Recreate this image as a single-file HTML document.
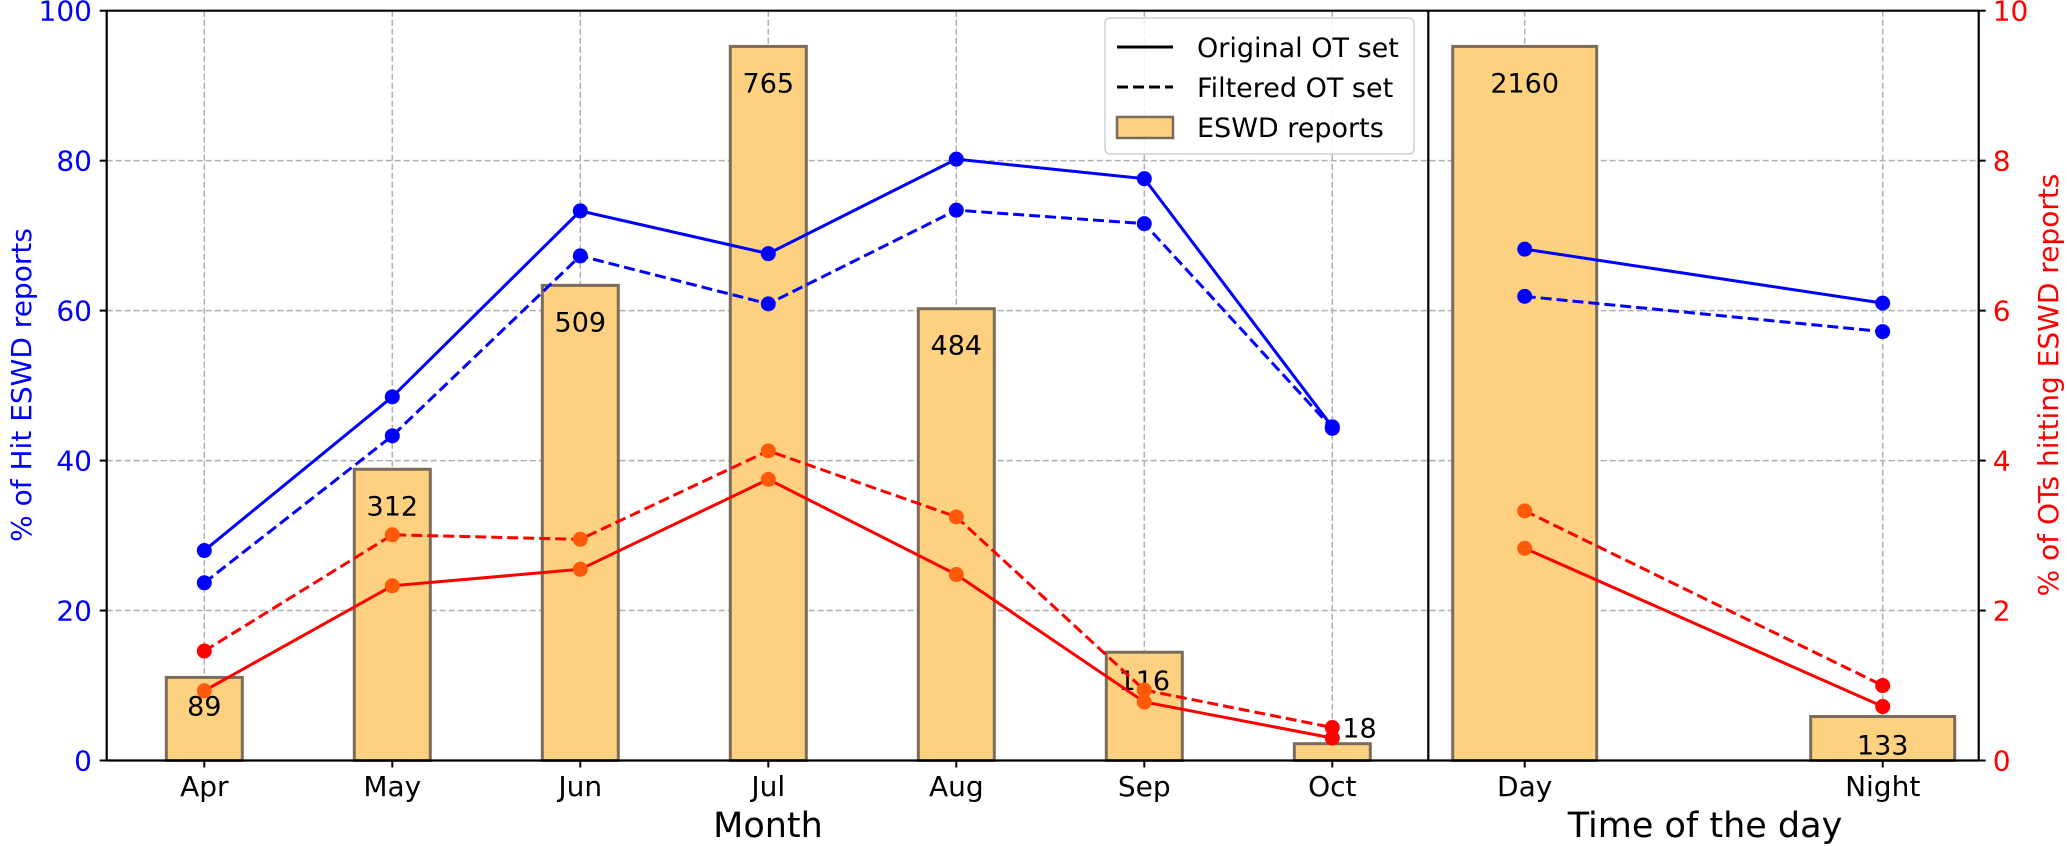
<!DOCTYPE html>
<html><head><meta charset="utf-8"><style>
body{margin:0;background:#fff}
svg{display:block;font-family:"DejaVu Sans","Liberation Sans",sans-serif}
</style></head><body>
<svg id="chart" width="2067" height="846" viewBox="0 0 2067 846"></svg>
<script>
const months=["Apr","May","Jun","Jul","Aug","Sep","Oct"];
const monthCounts=[89,312,509,765,484,116,18];
const monthHitOrig=[28,48.5,73.3,67.6,80.2,77.6,44.5];
const monthHitFilt=[23.7,43.3,67.3,60.9,73.4,71.6,44.3];
const monthOTOrig=[0.93,2.33,2.55,3.75,2.48,0.78,0.30];
const monthOTFilt=[1.46,3.01,2.95,4.13,3.25,0.94,0.44];
const times=["Day","Night"];
const timeCounts=[2160,133];
const timeHitOrig=[68.2,61];
const timeHitFilt=[61.9,57.2];
const timeOTOrig=[2.83,0.72];
const timeOTFilt=[3.33,1.0];
const leftTicks=[0,20,40,60,80,100];
const rightTicks=[0,2,4,6,8,10];

const NS="http://www.w3.org/2000/svg";
const svg=document.getElementById('chart');
function mk(tag,attrs,parent){const e=document.createElementNS(NS,tag);for(const k in attrs)e.setAttribute(k,attrs[k]);(parent||svg).appendChild(e);return e;}
const Y0=760.5,Y1=10.7,L=106.7,MID=1428.3,R=1978.7;
const yL=v=>Y0-(v/100)*(Y0-Y1);
const yR=v=>Y0-(v/10)*(Y0-Y1);
const xM=i=>204.3+i*188;
const xT=i=>1524.7+i*358;

// grid
leftTicks.forEach(t=>{const g=mk('line',{x1:L,x2:R,y1:yL(t),y2:yL(t),stroke:'#b0b0b0','stroke-width':1.5,'stroke-dasharray':'6,3'});
});
months.forEach((m,i)=>{const g=mk('line',{x1:xM(i),x2:xM(i),y1:Y1,y2:Y0,stroke:'#b0b0b0','stroke-width':1.5,'stroke-dasharray':'6,3'});
});
times.forEach((m,i)=>{const g=mk('line',{x1:xT(i),x2:xT(i),y1:Y1,y2:Y0,stroke:'#b0b0b0','stroke-width':1.5,'stroke-dasharray':'6,3'});
});

function drawLine(xs,vals,ys,color,dash,name,barPct){
  const pts=vals.map((v,i)=>xs(i)+','+ys(v)).join(' ');
  const pl=mk('polyline',{points:pts,fill:'none',stroke:color,'stroke-width':3,'stroke-dasharray':dash||'none'});
  
  vals.forEach((v,i)=>{
    let c=color;
    if(color==='#ff0000'&&barPct&&(ys(v)>yL(barPct[i])))c='#ff5a0a';
    const p=mk('circle',{cx:xs(i),cy:ys(v),r:7.5,fill:c});
    
  });
}
const mMax=Math.max(...monthCounts)*1.05, tMax=Math.max(...timeCounts)*1.05;
const mPct=monthCounts.map(c=>c/mMax*100), tPct=timeCounts.map(c=>c/tMax*100);

function bars(xs,pcts,counts,w,name){
  pcts.forEach((p,i)=>{
    const b=mk('rect',{x:xs(i)-w/2,y:yL(p),width:w,height:Y0-yL(p),fill:'#fdd17f',stroke:'#7a6c5a','stroke-width':3});
    
    let tx=xs(i),ty=yL(p)+46,anchor='middle';
    if(p<3){tx=xs(i)+10;ty=yL(p)-6;anchor='start';}
    else if(p<16){ty=yL(p)+38;}
    const t=mk('text',{x:tx,y:ty,'font-size':27,'text-anchor':anchor,fill:'#000'});
    t.textContent=counts[i];
  });
}
bars(xM,mPct,monthCounts,76,'month');
bars(xT,tPct,timeCounts,144,'time');

drawLine(xM,monthHitOrig,yL,'#0000ff',null,'hit-original',mPct);
drawLine(xM,monthHitFilt,yL,'#0000ff','11,5','hit-filtered',mPct);
drawLine(xM,monthOTOrig,yR,'#ff0000',null,'ot-original',mPct);
drawLine(xM,monthOTFilt,yR,'#ff0000','11,5','ot-filtered',mPct);
drawLine(xT,timeHitOrig,yL,'#0000ff',null,'time-hit-original',tPct);
drawLine(xT,timeHitFilt,yL,'#0000ff','11,5','time-hit-filtered',tPct);
drawLine(xT,timeOTOrig,yR,'#ff0000',null,'time-ot-original',tPct);
drawLine(xT,timeOTFilt,yR,'#ff0000','11,5','time-ot-filtered',tPct);

[[L,Y1,R,Y1],[L,Y0,R,Y0],[L,Y1,L,Y0],[R,Y1,R,Y0],[MID,Y1,MID,Y0]].forEach(a=>{
  const l=mk('line',{x1:a[0],y1:a[1],x2:a[2],y2:a[3],stroke:'#000','stroke-width':2.2});
  
});
leftTicks.forEach(t=>{
  mk('line',{x1:L-7,x2:L,y1:yL(t),y2:yL(t),stroke:'#000','stroke-width':2});
  const tx=mk('text',{x:92,y:yL(t)+10,'font-size':28,'text-anchor':'end',fill:'#0000ff'});
  tx.textContent=t;
});
rightTicks.forEach(t=>{
  mk('line',{x1:R,x2:R+7,y1:yR(t),y2:yR(t),stroke:'#000','stroke-width':2});
  const tx=mk('text',{x:R+14,y:yR(t)+10,'font-size':28,'text-anchor':'start',fill:'#ff0000'});
  tx.textContent=t;
});
months.forEach((m,i)=>{
  mk('line',{x1:xM(i),x2:xM(i),y1:Y0,y2:Y0+7,stroke:'#000','stroke-width':2});
  const tx=mk('text',{x:xM(i),y:796,'font-size':28,'text-anchor':'middle',fill:'#000'});
  tx.textContent=m;
});
times.forEach((m,i)=>{
  mk('line',{x1:xT(i),x2:xT(i),y1:Y0,y2:Y0+7,stroke:'#000','stroke-width':2});
  const tx=mk('text',{x:xT(i),y:796,'font-size':28,'text-anchor':'middle',fill:'#000'});
  tx.textContent=m;
});
</script>
<div style="position:absolute;left:0;top:0;width:2067px;height:846px;pointer-events:none">
<svg width="2067" height="846" style="font-family:'DejaVu Sans','Liberation Sans',sans-serif">
<text x="768" y="837" font-size="35" text-anchor="middle">Month</text>
<text x="1705" y="837" font-size="35" text-anchor="middle">Time of the day</text>
<text transform="translate(23,385) rotate(-90)" font-size="28" text-anchor="middle" fill="#0000ff" dominant-baseline="middle">% of Hit ESWD reports</text>
<text transform="translate(2050,385) rotate(-90)" font-size="28" text-anchor="middle" fill="#ff0000" dominant-baseline="middle">% of OTs hitting ESWD reports</text>
<g>
<rect x="1105" y="18" width="309" height="136" rx="5" fill="#fff" fill-opacity="0.85" stroke="#d0d0d0" stroke-width="1.5"/>
<line x1="1117" x2="1173" y1="47" y2="47" stroke="#000" stroke-width="3"/>
<text x="1197" y="57" font-size="27">Original OT set</text>
<line x1="1117" x2="1173" y1="87" y2="87" stroke="#000" stroke-width="3" stroke-dasharray="11,5"/>
<text x="1197" y="97" font-size="27">Filtered OT set</text>
<rect x="1117" y="117" width="56" height="21" fill="#fdd17f" stroke="#7a6c5a" stroke-width="2.5"/>
<text x="1197" y="137" font-size="27">ESWD reports</text>
</g>
</svg></div>
</body></html>
